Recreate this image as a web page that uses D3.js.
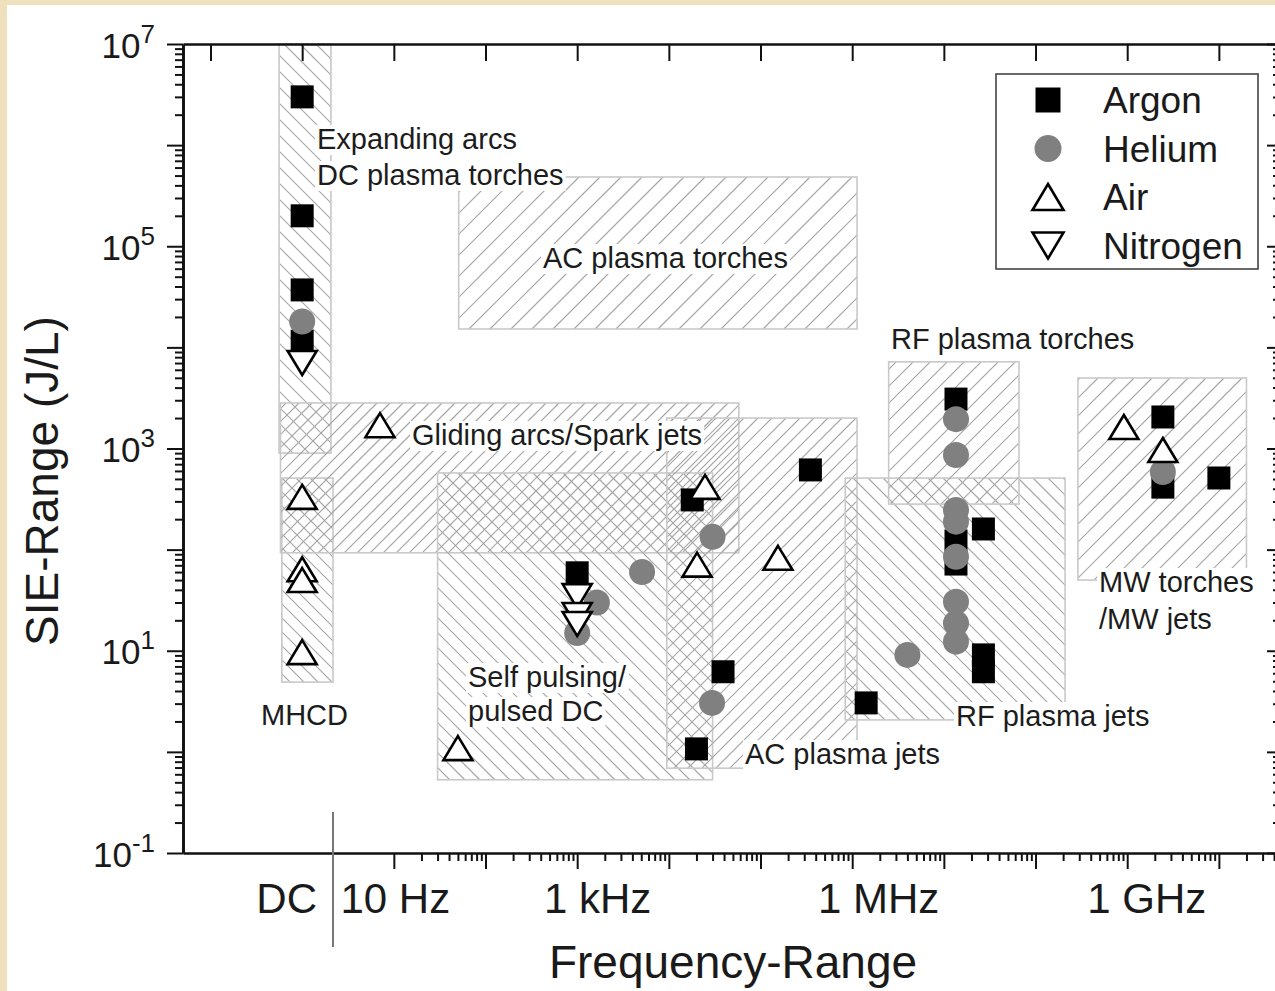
<!DOCTYPE html>
<html><head><meta charset="utf-8">
<script src="https://cdn.jsdelivr.net/npm/d3@7"></script>
<style>
html,body{margin:0;padding:0;background:#efe1bd;}
svg{display:block;font-family:"Liberation Sans",Arial,Helvetica,sans-serif;}
</style></head><body>
<svg id="c" width="1275" height="991"></svg>
<script>
// ---------------- DATA ----------------
const DC = 1; // DC sources are plotted at the 1 Hz position of the axis
const argonFreq = [DC, DC, DC, DC, 1e3, 1.8e4, 3.9e4, 2.0e4, 3.5e5, 1.42e6, 1.356e7, 1.356e7, 1.356e7, 2.7e7, 2.7e7, 2.7e7, 2.45e9, 2.45e9, 1e10];
const argonSIE  = [3.0e6, 2.0e5, 3.7e4, 1.15e4, 59, 310, 6.2, 1.07, 614, 3.05, 3.08e3, 122, 72, 160, 9.1, 6.2, 2.05e3, 415, 511];

const heliumFreq = [DC, 1e3, 1.64e3, 5.1e3, 3.0e4, 2.96e4, 4.0e6, 1.356e7, 1.356e7, 1.356e7, 1.356e7, 1.356e7, 1.356e7, 1.356e7, 1.356e7, 2.45e9];
const heliumSIE  = [1.8e4, 15, 30, 60, 134, 3.05, 9.1, 1.95e3, 863, 247, 189, 85, 30.5, 18.7, 12.3, 586];

const airFreq = [DC, DC, DC, DC, 7.06, 50, 2.48e4, 2.03e4, 1.55e5, 9.2e8, 2.45e9];
const airSIE  = [332, 64, 50, 9.7, 1.7e3, 1.09, 417, 71, 83, 1.63e3, 966];

const nitrogenFreq = [DC, 1e3, 1e3, 1e3];
const nitrogenSIE  = [7.0e3, 34.7, 22.6, 18.4];

// operating regions: [fMin, fMax, sieMin, sieMax]
const regionNames = ["Expanding arcs", "MHCD", "Gliding arcs", "AC plasma torches", "Self pulsing", "AC plasma jets", "RF plasma jets", "RF plasma torches", "MW torches"];
const regionFMin  = [0.56, 0.60, 0.58, 51, 30, 9.5e3, 8.4e5, 2.5e6, 2.9e8];
const regionFMax  = [2.06, 2.17, 5.8e4, 1.13e6, 3.0e4, 1.13e6, 2.1e8, 6.6e7, 2.0e10];
const regionSMin  = [900, 4.9, 93, 1.52e4, 0.53, 0.69, 2.07, 282, 50];
const regionSMax  = [1e7, 510, 2.82e3, 4.84e5, 573, 2.0e3, 510, 7.2e3, 4.98e3];

const seriesNames = ["Argon", "Helium", "Air", "Nitrogen"];
const xTickLabels = ["DC", "10 Hz", "1 kHz", "1 MHz", "1 GHz"];
const xTickValues = [DC, 10, 1e3, 1e6, 1e9];
const yLabelExponents = [-1, 1, 3, 5, 7];
const dcBoundary = 2.17;

// ---------------- STYLE / LAYOUT ----------------
const hatchDir   = ["\\", "\\", "/", "/", "\\", "/", "\\", "/", "/"];
const hatchSpace = [16, 14, 13, 21, 15, 14, 15, 17, 18];
const xLabelDx   = [-16, 1, 20, 26, 19];
const annotations = [
  {t:"Expanding arcs", x:317, y:149},
  {t:"DC plasma torches", x:317, y:185},
  {t:"AC plasma torches", x:543, y:268},
  {t:"RF plasma torches", x:891, y:349},
  {t:"Gliding arcs/Spark jets", x:412, y:445},
  {t:"MHCD", x:261, y:725},
  {t:"Self pulsing/", x:468, y:687},
  {t:"pulsed DC", x:468, y:721},
  {t:"AC plasma jets", x:745, y:764},
  {t:"RF plasma jets", x:956, y:726},
  {t:"MW torches", x:1099, y:592},
  {t:"/MW jets", x:1099, y:629}
];

const W = 1275, H = 991;
const L = 183, R = 1284, T = 44, B = 853;
const x = d3.scaleLog().domain([Math.pow(10, -1.3), Math.pow(10, 10.7)]).range([L, L + 12 * 91.67]);
const y = d3.scaleLog().domain([0.1, 1e7]).range([B, T]);

const svg = d3.select('#c');
svg.append('rect').attr('x', 7).attr('y', 5).attr('width', W).attr('height', H).attr('fill', '#fff');
const defs = svg.append('defs');

// regions: hatch lines clipped to each rectangle
const gReg = svg.append('g');
regionNames.forEach((n, i) => {
  const x0 = x(regionFMin[i]), x1 = x(regionFMax[i]);
  const y0 = y(regionSMax[i]), y1 = y(regionSMin[i]);
  defs.append('clipPath').attr('id', 'cp' + i).append('rect')
    .attr('x', x0).attr('y', y0).attr('width', x1 - x0).attr('height', y1 - y0);
  const h = hatchSpace[i];
  const g = gReg.append('g').attr('clip-path', `url(#cp${i})`);
  const segs = [];
  if (hatchDir[i] === '/') {
    for (let c = Math.floor((x0 + y0) / h) * h; c <= x1 + y1 + h; c += h)
      segs.push([c - y1, y1, c - y0, y0]);
  } else {
    for (let c = Math.floor((y0 - x1) / h) * h; c <= y1 - x0 + h; c += h)
      segs.push([y0 - c, y0, y1 - c, y1]);
  }
  g.selectAll('line').data(segs).join('line')
    .attr('x1', d => d[0]).attr('y1', d => d[1]).attr('x2', d => d[2]).attr('y2', d => d[3])
    .attr('stroke', '#a6a6a6').attr('stroke-width', 1.2);
  gReg.append('rect').attr('x', x0).attr('y', y0).attr('width', x1 - x0).attr('height', y1 - y0)
    .attr('fill', 'none').attr('stroke', '#c9c9c9').attr('stroke-width', 1.6);
});

// annotations with white background
const gAnn = svg.append('g');
annotations.forEach(a => {
  const g = gAnn.append('g');
  const r = g.append('rect').attr('fill', '#fff');
  const t = g.append('text').attr('x', a.x).attr('y', a.y).attr('font-size', 29).attr('fill', '#1c1c1c').text(a.t);
  const bb = t.node().getBBox();
  r.attr('x', bb.x - 2).attr('y', bb.y + 2).attr('width', bb.width + 4).attr('height', bb.height - 2);
});

// axes
function styleAxis(g, w) {
  g.selectAll('path.domain').attr('stroke', '#111').attr('stroke-width', 2.6);
  g.selectAll('.tick line').attr('stroke', '#111').attr('stroke-width', w || 2);
}
const decadesY = d3.range(-1, 8).map(k => Math.pow(10, k));
const minorsY = [];
for (let k = -1; k < 7; k++) for (let m = 2; m <= 9; m++) minorsY.push(m * Math.pow(10, k));
const decadesX = d3.range(1, 11).map(k => Math.pow(10, k));
const minorsX = [];
for (let k = 1; k <= 10; k++) for (let m = 2; m <= 9; m++) { const v = m * Math.pow(10, k); if (x(v) <= R) minorsX.push(v); }
const topTicks = d3.range(-1, 11).map(k => Math.pow(10, k));

// left
styleAxis(svg.append('g').attr('transform', `translate(${L},0)`).call(d3.axisLeft(y).tickValues(minorsY).tickSize(8).tickSizeOuter(0).tickFormat('')));
styleAxis(svg.append('g').attr('transform', `translate(${L},0)`).call(d3.axisLeft(y).tickValues(decadesY).tickSize(16).tickSizeOuter(0).tickFormat('')));
// right
styleAxis(svg.append('g').attr('transform', `translate(${R},0)`).call(d3.axisRight(y).tickValues(minorsY).tickSize(-11).tickSizeOuter(0).tickFormat('')));
styleAxis(svg.append('g').attr('transform', `translate(${R},0)`).call(d3.axisRight(y).tickValues(decadesY).tickSize(-17).tickSizeOuter(0).tickFormat('')));
// bottom
const xLine = d3.scaleLinear().domain([0, 1]).range([L, R]);
styleAxis(svg.append('g').attr('transform', `translate(0,${B})`).call(d3.axisBottom(xLine).tickValues([]).tickSizeOuter(0)));
styleAxis(svg.append('g').attr('transform', `translate(0,${B})`).call(d3.axisBottom(x).tickValues(minorsX).tickSize(8).tickSizeOuter(0).tickFormat('')).call(g => g.select('.domain').remove()));
styleAxis(svg.append('g').attr('transform', `translate(0,${B})`).call(d3.axisBottom(x).tickValues(decadesX).tickSize(16).tickSizeOuter(0).tickFormat('')).call(g => g.select('.domain').remove()));
// top
styleAxis(svg.append('g').attr('transform', `translate(0,${T})`).call(d3.axisTop(xLine).tickValues([]).tickSizeOuter(0)));
styleAxis(svg.append('g').attr('transform', `translate(0,${T})`).call(d3.axisTop(x).tickValues(topTicks).tickSize(-17).tickSizeOuter(0).tickFormat('')).call(g => g.select('.domain').remove()));

// y labels 10^n
const yLab = svg.append('g').attr('transform', `translate(${L},0)`)
  .call(d3.axisLeft(y).tickValues(yLabelExponents.map(e => Math.pow(10, e))).tickSize(0).tickPadding(28).tickFormat(''));
yLab.select('.domain').remove();
yLab.selectAll('.tick text').each(function(d) {
  const t = d3.select(this).attr('dy', null).attr('y', 13).attr('font-size', 35).attr('fill', '#1a1a1a')
    .attr('font-family', '"Liberation Sans",Arial,sans-serif');
  t.text('');
  t.append('tspan').text('10');
  t.append('tspan').attr('font-size', 26).attr('dy', -15).text(String(Math.round(Math.log10(d))));
});

// x labels
const xLab = svg.append('g').attr('transform', `translate(0,${B})`)
  .call(d3.axisBottom(x).tickValues(xTickValues).tickSize(0).tickFormat((d, i) => xTickLabels[i]));
xLab.select('.domain').remove();
xLab.selectAll('.tick text').attr('y', 60).attr('dy', null).attr('font-size', 42).attr('fill', '#1a1a1a')
  .attr('font-family', '"Liberation Sans",Arial,sans-serif')
  .attr('dx', (d, i) => xLabelDx[i]);

// DC separator
svg.append('line').attr('x1', x(dcBoundary)).attr('x2', x(dcBoundary)).attr('y1', B - 41).attr('y2', B + 94)
  .attr('stroke', '#777').attr('stroke-width', 2);

// titles
svg.append('text').attr('x', 733).attr('y', 978).attr('text-anchor', 'middle').attr('font-size', 46).attr('fill', '#1a1a1a').text('Frequency-Range');
svg.append('text').attr('transform', 'translate(58,481) rotate(-90)').attr('text-anchor', 'middle').attr('font-size', 46).attr('fill', '#1a1a1a').text('SIE-Range (J/L)');

// symbols
const sq = s => `M${-s/2},${-s/2}h${s}v${s}h${-s}Z`;
const triUp = (w, h) => `M0,${-h/2}L${w/2},${h/2}L${-w/2},${h/2}Z`;
const triDown = (w, h) => `M0,${h/2}L${w/2},${-h/2}L${-w/2},${-h/2}Z`;
const gPts = svg.append('g');
gPts.selectAll('path.ar').data(d3.zip(argonFreq, argonSIE)).join('path').attr('class', 'ar')
  .attr('transform', d => `translate(${x(d[0])},${y(d[1])})`).attr('d', sq(23)).attr('fill', '#000');
gPts.selectAll('circle.he').data(d3.zip(heliumFreq, heliumSIE)).join('circle').attr('class', 'he')
  .attr('cx', d => x(d[0])).attr('cy', d => y(d[1])).attr('r', 13).attr('fill', '#808080');
gPts.selectAll('path.air').data(d3.zip(airFreq, airSIE)).join('path').attr('class', 'air')
  .attr('transform', d => `translate(${x(d[0])},${y(d[1])})`).attr('d', triUp(29, 24))
  .attr('fill', '#fff').attr('stroke', '#000').attr('stroke-width', 2.6).attr('stroke-linejoin', 'miter');
gPts.selectAll('path.n2').data(d3.zip(nitrogenFreq, nitrogenSIE)).join('path').attr('class', 'n2')
  .attr('transform', d => `translate(${x(d[0])},${y(d[1])})`).attr('d', triDown(29, 24))
  .attr('fill', '#fff').attr('stroke', '#000').attr('stroke-width', 2.6);

// legend
const lg = svg.append('g');
lg.append('rect').attr('x', 996).attr('y', 74).attr('width', 262).attr('height', 195)
  .attr('fill', '#fff').attr('stroke', '#444').attr('stroke-width', 1.6);
seriesNames.forEach((n, i) => {
  const cy = 100 + i * 48.5;
  const g = lg.append('g').attr('transform', `translate(1048,${cy})`);
  if (i === 0) g.append('path').attr('d', sq(25)).attr('fill', '#000');
  if (i === 1) g.append('circle').attr('r', 13.5).attr('fill', '#808080');
  if (i === 2) g.append('path').attr('d', triUp(31, 26)).attr('fill', '#fff').attr('stroke', '#000').attr('stroke-width', 2.6);
  if (i === 3) g.append('path').attr('d', triDown(31, 26)).attr('fill', '#fff').attr('stroke', '#000').attr('stroke-width', 2.6);
  lg.append('text').attr('x', 1103).attr('y', cy + 13).attr('font-size', 37).attr('fill', '#1a1a1a').text(n);
});
</script>
</body></html>
